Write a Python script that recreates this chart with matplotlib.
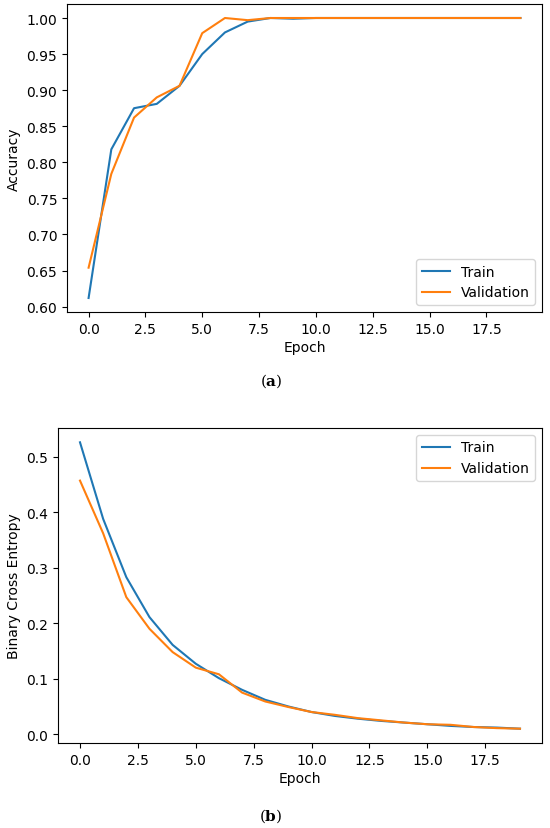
import matplotlib
matplotlib.use("Agg")
import matplotlib.pyplot as plt
import numpy as np

epochs = list(range(20))
train_acc = [0.612, 0.818, 0.875, 0.881, 0.906, 0.950, 0.980, 0.995, 1.000, 0.999,
             1.000, 1.000, 1.000, 1.000, 1.000, 1.000, 1.000, 1.000, 1.000, 1.000]
val_acc = [0.654, 0.784, 0.862, 0.890, 0.906, 0.979, 1.000, 0.997, 1.000, 1.000,
           1.000, 1.000, 1.000, 1.000, 1.000, 1.000, 1.000, 1.000, 1.000, 1.000]
train_loss = [0.526, 0.388, 0.283, 0.211, 0.161, 0.127, 0.101, 0.080, 0.062, 0.050,
              0.040, 0.033, 0.028, 0.024, 0.021, 0.018, 0.015, 0.013, 0.012, 0.010]
val_loss = [0.457, 0.362, 0.247, 0.190, 0.148, 0.120, 0.108, 0.075, 0.059, 0.049,
            0.040, 0.035, 0.029, 0.025, 0.021, 0.018, 0.017, 0.013, 0.011, 0.010]

plt.rcParams['mathtext.fontset'] = 'dejavuserif'
W, H = 550, 829
fig = plt.figure(figsize=(W / 100, H / 100), dpi=100)

def axrect(l, t, r, b):
    return [l / W, 1 - b / H, (r - l) / W, (b - t) / H]

fs = 10
ax1 = fig.add_axes(axrect(67, 5, 542, 313))
ax1.plot(epochs, train_acc, color='#1f77b4', label='Train', lw=1.5)
ax1.plot(epochs, val_acc, color='#ff7f0e', label='Validation', lw=1.5)
ax1.set_xlabel('Epoch', fontsize=fs, labelpad=3)
ax1.set_ylabel('Accuracy', fontsize=fs)
ax1.tick_params(labelsize=fs)
ax1.legend(loc='lower right', fontsize=fs)

ax2 = fig.add_axes(axrect(58, 429, 542, 744))
ax2.plot(epochs, train_loss, color='#1f77b4', label='Train', lw=1.5)
ax2.plot(epochs, val_loss, color='#ff7f0e', label='Validation', lw=1.5)
ax2.set_xlabel('Epoch', fontsize=fs, labelpad=3)
ax2.set_ylabel('Binary Cross Entropy', fontsize=fs)
ax2.tick_params(labelsize=fs)
ax2.legend(loc='upper right', fontsize=fs)

fig.text(271 / W, 1 - 381 / H, r'$(\mathbf{a})$', ha='center', va='center', fontsize=11)
fig.text(271 / W, 1 - 816 / H, r'$(\mathbf{b})$', ha='center', va='center', fontsize=11)

fig.savefig('out.png', dpi=100)
